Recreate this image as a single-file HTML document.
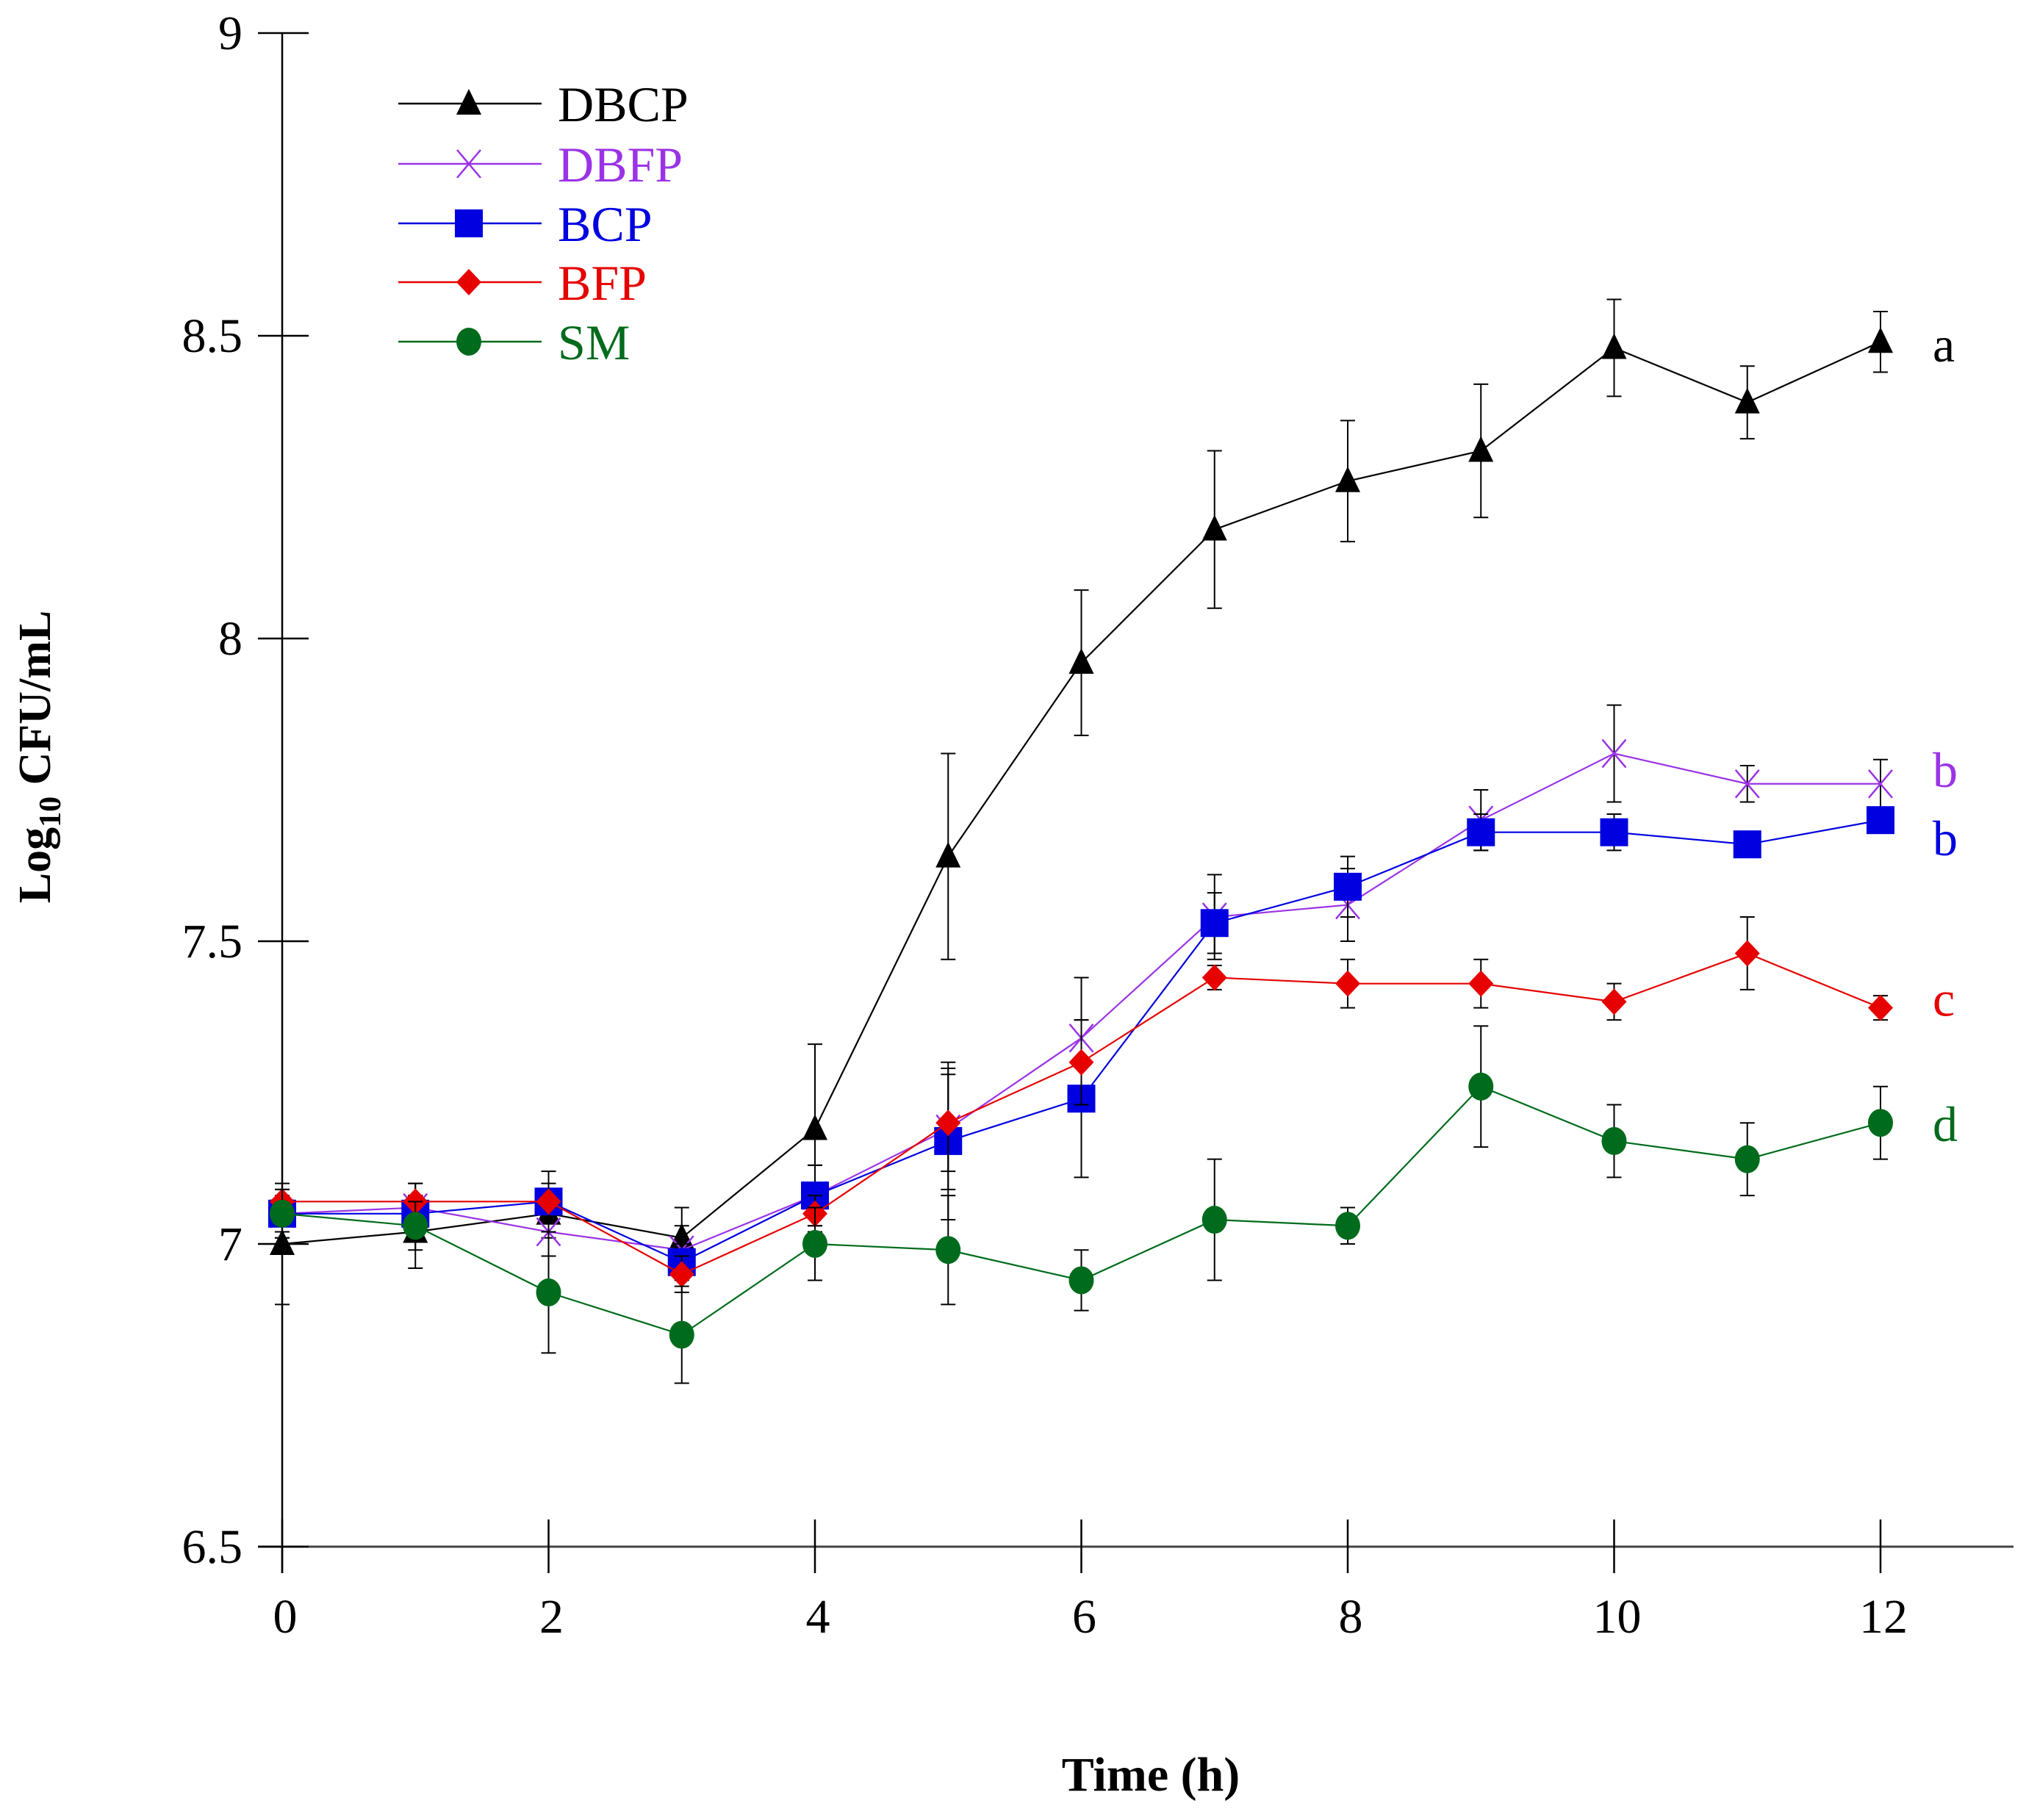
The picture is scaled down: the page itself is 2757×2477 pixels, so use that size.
<!DOCTYPE html>
<html><head><meta charset="utf-8"><style>
html,body{margin:0;padding:0;background:#fff;}
svg{display:block;font-family:"Liberation Serif",serif;}
</style></head><body>
<svg id="chart" width="2757" height="2477" viewBox="0 0 2757 2477" xmlns="http://www.w3.org/2000/svg">
<g id="axes"></g>
<g id="series"></g>
<g id="legend"></g>
<text x="1566" y="2437" font-size="66" font-weight="bold" text-anchor="middle">Time (h)</text>
<text transform="translate(68,1030) rotate(-90)" font-size="62" font-weight="bold" text-anchor="middle">Log<tspan font-size="42" dy="14">10</tspan><tspan dy="-14"> CFU/mL</tspan></text>
</svg>
<script>
const times = [0,1,2,3,4,5,6,7,8,9,10,11,12];
const seriesNames = ["DBCP","DBFP","BCP","BFP","SM"];
const dbcpVals = [7.00,7.02,7.05,7.01,7.19,7.64,7.96,8.18,8.26,8.31,8.48,8.39,8.49];
const dbcpErr  = [0.10,0.06,0.04,0.05,0.14,0.17,0.12,0.13,0.10,0.11,0.08,0.06,0.05];
const dbfpVals = [7.05,7.06,7.02,6.99,7.08,7.19,7.34,7.54,7.56,7.70,7.81,7.76,7.76];
const dbfpErr  = [0.04,0.04,0.04,0.04,0.05,0.10,0.10,0.07,0.06,0.05,0.08,0.03,0.04];
const bcpVals  = [7.05,7.05,7.07,6.97,7.08,7.17,7.24,7.53,7.59,7.68,7.68,7.66,7.70];
const bcpErr   = [0.03,0.03,0.05,0.03,0.05,0.13,0.13,0.05,0.05,0.03,0.03,0.02,0.02];
const bfpVals  = [7.07,7.07,7.07,6.95,7.05,7.20,7.30,7.44,7.43,7.43,7.40,7.48,7.39];
const bfpErr   = [0.02,0.03,0.03,0.03,0.03,0.08,0.07,0.02,0.04,0.04,0.03,0.06,0.02];
const smVals   = [7.05,7.03,6.92,6.85,7.00,6.99,6.94,7.04,7.03,7.26,7.17,7.14,7.20];
const smErr    = [0.04,0.04,0.10,0.08,0.06,0.09,0.05,0.10,0.03,0.10,0.06,0.06,0.06];
const sigLetters = ["a","b","b","c","d"];
const yTicks = [6.5,7,7.5,8,8.5,9];
const yTickLabels = ["6.5","7","7.5","8","8.5","9"];
const xTicks = [0,2,4,6,8,10,12];

const NS="http://www.w3.org/2000/svg";
const X0=384, X12=2559, Y65=2105, Y9=45;
const letterOffsets=[27,4,48,11,25];
function xs(t){return X0+(X12-X0)*t/12;}
function ys(v){return Y65-(Y65-Y9)*(v-6.5)/2.5;}
function mk(tag,attrs,parent){const e=document.createElementNS(NS,tag);for(const k in attrs)e.setAttribute(k,attrs[k]);parent.appendChild(e);return e;}

const axes=document.getElementById('axes');
let e=mk('line',{x1:X0,y1:Y9,x2:X0,y2:2141,stroke:'#000','stroke-width':2.5},axes);


e=mk('line',{x1:351,y1:Y65,x2:2740,y2:Y65,stroke:'#444','stroke-width':3},axes);


yTicks.forEach((v,i)=>{
  const y=ys(v);
  let t=mk('line',{x1:351,y1:y,x2:420,y2:y,stroke:'#000','stroke-width':2.5},axes);
  
  
  let l=mk('text',{x:330,y:y+22,'font-size':66,'text-anchor':'end'},axes);
  l.textContent=yTickLabels[i];
  
  
});
xTicks.forEach(v=>{
  const x=xs(v);
  let t=mk('line',{x1:x,y1:2068,x2:x,y2:2141,stroke:'#000','stroke-width':2.5},axes);
  
  
  let l=mk('text',{x:x+4,y:2222,'font-size':66,'text-anchor':'middle'},axes);
  l.textContent=String(v);
  
  
});

const colors=['#000000','#9a33e6','#0000e0','#e60000','#006b1c'];
const allVals=[dbcpVals,dbfpVals,bcpVals,bfpVals,smVals];
const allErr=[dbcpErr,dbfpErr,bcpErr,bfpErr,smErr];
const shapes=['tri','x','sq','dia','circ'];

function marker(shape,x,y,c,parent){
  let m;
  if(shape==='tri') m=mk('polygon',{points:`${x},${y-20} ${x-17},${y+15} ${x+17},${y+15}`,fill:c},parent);
  else if(shape==='sq') m=mk('rect',{x:x-19,y:y-19,width:38,height:38,fill:c},parent);
  else if(shape==='dia') m=mk('polygon',{points:`${x},${y-18} ${x+17},${y} ${x},${y+18} ${x-17},${y}`,fill:c},parent);
  else if(shape==='circ') m=mk('ellipse',{cx:x,cy:y,rx:17,ry:19,fill:c},parent);
  else { m=mk('path',{d:`M${x-16},${y-19}L${x+16},${y+19}M${x+16},${y-19}L${x-16},${y+19}`,stroke:c,'stroke-width':2.5,fill:'none'},parent);}
  return m;
}

const sg=document.getElementById('series');
seriesNames.forEach((name,si)=>{
  const g=mk('g',{},sg);
  
  
  const vals=allVals[si], err=allErr[si], c=colors[si];
  times.forEach((t,i)=>{
    const x=xs(t);
    let eb=mk('path',{d:`M${x},${ys(vals[i]+err[i])}V${ys(vals[i]-err[i])}M${x-10},${ys(vals[i]+err[i])}h20M${x-10},${ys(vals[i]-err[i])}h20`,stroke:'#000','stroke-width':2,fill:'none'},g);
    
    
  });
  const pts=times.map((t,i)=>xs(t)+','+ys(vals[i])).join(' ');
  let pl=mk('polyline',{points:pts,fill:'none',stroke:c,'stroke-width':2.2},g);
  
  
  times.forEach((t,i)=>{
    let m=marker(shapes[si],xs(t),ys(vals[i]),c,g);
    
    
  });
  let lt=mk('text',{x:2630,y:ys(vals[12])+letterOffsets[si],'font-size':68,fill:c},g);
  lt.textContent=sigLetters[si];
  
  
});

const lg=document.getElementById('legend');
const legY=[141,223,304,384,465];
seriesNames.forEach((name,si)=>{
  const g=mk('g',{},lg);
  
  
  const y=legY[si];
  mk('line',{x1:542,y1:y,x2:737,y2:y,stroke:colors[si],'stroke-width':2.5},g);
  marker(shapes[si],638,y,colors[si],g);
  let t=mk('text',{x:759,y:y+24,'font-size':68,fill:colors[si]},g);
  t.textContent=name;
});
</script>
</body></html>
